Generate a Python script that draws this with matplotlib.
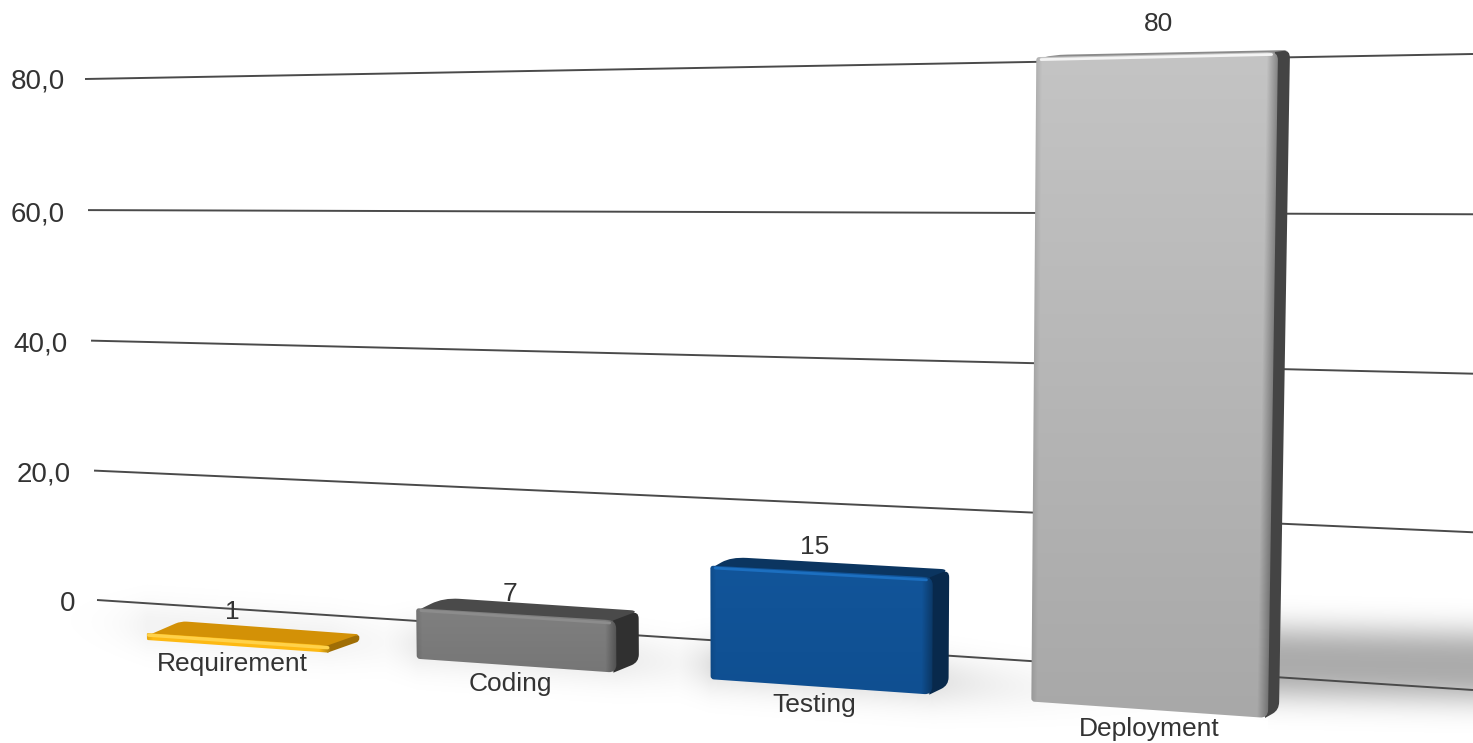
import numpy as np
import matplotlib
matplotlib.use("Agg")
import matplotlib.pyplot as plt
from matplotlib.path import Path
from matplotlib.patches import PathPatch

categories = ["Requirement", "Coding", "Testing", "Deployment"]
values = [1, 7, 15, 80]
tick_values = [0, 20, 40, 60, 80]
tick_labels = ["0", "20,0", "40,0", "60,0", "80,0"]

front_top = ["#fdb913", "#808080", "#12559a", "#c4c4c4"]
front_bottom = ["#fdb913", "#767676", "#0f4f91", "#a8a8a8"]
top_colors = ["#d39106", "#4a4a4a", "#0b3560", "#8a8a8a"]
side_colors = ["#a06e05", "#303030", "#08294c", "#444444"]
edge_lights = ["#ffd24a", "#8c8c8c", "#1c6fc0", "#f4f4f4"]
shadow_strength = [0.05, 0.08, 0.12, 0.33]

# Bar slots along the floor, and where the labels sit.
bar_starts = [0.0, 1.007, 2.013, 3.016]
bar_ends = [0.693, 1.7, 2.716, 3.7]
tick_label_right = [75, 71, 68, 65, 65]
tick_label_drop = [4, 4, 4, 4, 2]
name_offsets = [(-5, -18), (-5, -18), (-5, -18), (2, -19)]
value_offsets = [(-5, 27), (-5, 20), (-5, 24), (3, 31)]

TEXT = "#333333"
V_MAX = 80.0
T_SPAN = 3.7

# Perspective camera: corners of each plane on the canvas, as (x, y) pairs.
FRONT_PLANE = [(147, 640), (1268, 718), (136, 76), (1278, 52)]
BACK_PLANE = [(181, 628), (1279, 710), (170, 73), (1290, 50)]
WALL_PLANE = [(97, 600), (1473, 690), (85, 79), (1473, 54)]


def homography(src, dst):
    rows, rhs = [], []
    for (a, b), (x, y) in zip(src, dst):
        rows.append([a, b, 1, 0, 0, 0, -a * x, -b * x])
        rows.append([0, 0, 0, a, b, 1, -a * y, -b * y])
        rhs += [x, y]
    return np.append(np.linalg.solve(np.array(rows, float), np.array(rhs, float)), 1).reshape(3, 3)


def projector(corners, t_span):
    src = [(0, 0), (t_span, 0), (0, V_MAX), (t_span, V_MAX)]
    H = homography(src, corners)

    def project(t, v):
        p = H @ np.array([t, v, 1.0])
        return np.array([p[0] / p[2], p[1] / p[2]])
    return project


front = projector(FRONT_PLANE, T_SPAN)
back = projector(BACK_PLANE, T_SPAN)
wall = projector(WALL_PLANE, 1.0)


def rounded(points, radii):
    """Closed path through the polygon, each corner rounded by its own radius."""
    pts = [np.asarray(p, float) for p in points]
    n = len(pts)
    verts, codes = [], []
    for i in range(n):
        prev_pt, cur, next_pt = pts[i - 1], pts[i], pts[(i + 1) % n]
        r_in = min(radii[i], np.linalg.norm(prev_pt - cur) * 0.45)
        r_out = min(radii[i], np.linalg.norm(next_pt - cur) * 0.45)
        start = cur + (prev_pt - cur) / np.linalg.norm(prev_pt - cur) * r_in
        stop = cur + (next_pt - cur) / np.linalg.norm(next_pt - cur) * r_out
        verts += [start, cur, stop]
        codes += [Path.MOVETO if i == 0 else Path.LINETO, Path.CURVE3, Path.CURVE3]
    verts.append(verts[0])
    codes.append(Path.CLOSEPOLY)
    return Path(np.array(verts), codes)


def rgb(hex_color):
    return np.array(matplotlib.colors.to_rgb(hex_color))


fig = plt.figure(figsize=(14.73, 7.43), dpi=100)
ax = fig.add_axes([0, 0, 1, 1])
W, H_PX = 1473, 743

# Soft floor shadows behind and around each bar.
X, Y = np.meshgrid(np.arange(W) + 0.5, np.arange(H_PX) + 0.5)
shadow = np.zeros_like(X)
for i, strength in enumerate(shadow_strength):
    left = front(bar_starts[i], 0)
    right = front(bar_ends[i], 0)
    if i == 3:
        centre = 662 + (X - right[0]) * 0.02
        band = np.exp(-np.abs((Y - centre) / 38.0) ** 2.6)
        reach = np.where(X >= right[0], 1.0, 0.28 * np.exp(-(right[0] - X) / 60.0))
    else:
        centre = right[1] - 14 + (X - right[0]) * 0.07
        band = np.exp(-np.abs((Y - centre) / 26.0) ** 2)
        reach = np.where(X >= right[0], np.exp(-(X - right[0]) / 90.0),
                         np.where(X >= left[0], 1.0, np.exp(-(left[0] - X) / 30.0)))
    shadow = np.maximum(shadow, strength * band * reach)
shadow_rgba = np.zeros(X.shape + (4,))
shadow_rgba[..., 3] = shadow
ax.imshow(shadow_rgba, extent=(0, W, H_PX, 0), aspect="auto", zorder=1, interpolation="bilinear")

# Receding gridlines and their value labels.
for k, (v, label) in enumerate(zip(tick_values, tick_labels)):
    a, b = wall(0, v), wall(1, v)
    ax.plot([a[0], b[0]], [a[1], b[1]], color="#4a4a4a", lw=1.4, solid_capstyle="butt", zorder=2)
    ax.text(tick_label_right[k], a[1] + tick_label_drop[k], label, ha="right", va="center", fontsize=20,
            family="Liberation Sans", color=TEXT, zorder=6)

# Bars: top and side faces first, then the shaded front face.
for i, (name, value) in enumerate(zip(categories, values)):
    t0, t1 = bar_starts[i], bar_ends[i]
    fbl, fbr, ftr, ftl = front(t0, 0), front(t1, 0), front(t1, value), front(t0, value)
    bbr, btr, btl = back(t1, 0), back(t1, value), back(t0, value)
    radius = 3 if value < 3 else 8

    # Both faces run a little under the front face so no seam shows at the shared edges.
    under_x = np.array([3.0, 0.0])
    under_y = np.array([0.0, min(3.0, (fbr[1] - ftr[1]) * 0.4)])
    ax.add_patch(PathPatch(rounded([ftl + under_y, ftr + under_y, btr, btl], [0, 0, radius, radius * 2]),
                           fc=top_colors[i], ec="none", zorder=3))
    ax.add_patch(PathPatch(rounded([ftr - under_x, btr, bbr, fbr - under_x], [0, radius, radius, 0]),
                           fc=side_colors[i], ec="none", zorder=3))

    outline = PathPatch(rounded([fbl, fbr, ftr, ftl], [radius * 0.4, radius, radius, radius * 0.4]),
                        fc="none", ec="none", zorder=4)
    ax.add_patch(outline)
    x0 = int(min(fbl[0], ftl[0])) - 1
    x1 = int(max(fbr[0], ftr[0])) + 2
    y0 = int(min(ftl[1], ftr[1])) - 1
    y1 = int(max(fbl[1], fbr[1])) + 2
    gx, gy = np.meshgrid(np.arange(x0, x1) + 0.5, np.arange(y0, y1) + 0.5)
    fy = ((gy - y0) / max(y1 - y0, 1))[..., None]
    shade = rgb(front_top[i]) * (1 - fy) + rgb(front_bottom[i]) * fy
    edge_x = fbr[0] + (ftr[0] - fbr[0]) * (gy - fbr[1]) / (ftr[1] - fbr[1])
    left_x = fbl[0] + (ftl[0] - fbl[0]) * (gy - fbl[1]) / (ftl[1] - fbl[1])
    bevel = np.clip((gx - edge_x + 11) / 11.0, 0, 1) * 0.32
    bevel_left = np.clip(1 - (gx - left_x) / 6.0, 0, 1) * 0.10
    shade = shade * (1 - bevel - bevel_left)[..., None]
    img = ax.imshow(shade, extent=(x0, x1, y1, y0), aspect="auto", zorder=4, interpolation="bilinear")
    img.set_clip_path(outline)

    # Bright rim along the upper front edge.
    inset = min(2.5, (fbl[1] - ftl[1]) * 0.3)
    ax.plot([ftl[0] + radius * 0.6, ftr[0] - radius * 0.8], [ftl[1] + inset, ftr[1] + inset],
            color=edge_lights[i], lw=2.4 if value < 3 else 2.0, solid_capstyle="round", zorder=5)

    mid = (t0 + t1) / 2
    ax.annotate(name, front(mid, 0), xytext=name_offsets[i], textcoords="offset pixels",
                ha="center", va="center", fontsize=19, family="Liberation Sans", color=TEXT,
                zorder=6, annotation_clip=False)
    ax.annotate(str(value), front(mid, value), xytext=value_offsets[i], textcoords="offset pixels",
                ha="center", va="center", fontsize=19, family="Liberation Sans", color=TEXT,
                zorder=6, annotation_clip=False)

ax.set_xlim(0, W)
ax.set_ylim(H_PX, 0)
ax.axis("off")
fig.savefig("out.png", dpi=100, facecolor="white")
